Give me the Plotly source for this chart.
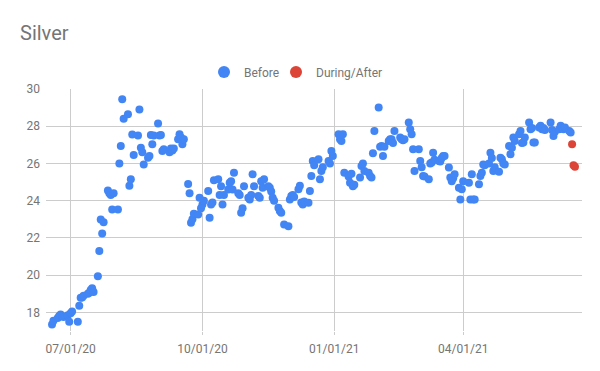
import plotly.graph_objects as go

# ---- data ----
before_dates = [
    "2020-06-18","2020-06-19","2020-06-22","2020-06-23","2020-06-24","2020-06-25","2020-06-26","2020-06-29","2020-06-30",
    "2020-07-01","2020-07-02","2020-07-06","2020-07-07","2020-07-08","2020-07-09","2020-07-10","2020-07-13","2020-07-14",
    "2020-07-15","2020-07-16","2020-07-17","2020-07-20","2020-07-21","2020-07-22","2020-07-23","2020-07-24","2020-07-27",
    "2020-07-28","2020-07-29","2020-07-30","2020-07-31",
    "2020-08-03","2020-08-04","2020-08-05","2020-08-06","2020-08-07","2020-08-10","2020-08-11","2020-08-12","2020-08-13",
    "2020-08-14","2020-08-17","2020-08-18","2020-08-19","2020-08-20","2020-08-21","2020-08-24","2020-08-25","2020-08-26",
    "2020-08-27","2020-08-28","2020-08-31",
    "2020-09-01","2020-09-02","2020-09-03","2020-09-04","2020-09-08","2020-09-09","2020-09-10","2020-09-11","2020-09-14",
    "2020-09-15","2020-09-16","2020-09-17","2020-09-18","2020-09-21","2020-09-22","2020-09-23","2020-09-24","2020-09-25",
    "2020-09-28","2020-09-29","2020-09-30",
    "2020-10-01","2020-10-02","2020-10-05","2020-10-06","2020-10-07","2020-10-08","2020-10-09","2020-10-12","2020-10-13",
    "2020-10-14","2020-10-15","2020-10-16","2020-10-19","2020-10-20","2020-10-21","2020-10-22","2020-10-23","2020-10-26",
    "2020-10-27","2020-10-28","2020-10-29","2020-10-30",
    "2020-11-02","2020-11-03","2020-11-04","2020-11-05","2020-11-06","2020-11-09","2020-11-10","2020-11-11","2020-11-12",
    "2020-11-13","2020-11-16","2020-11-17","2020-11-18","2020-11-19","2020-11-20","2020-11-23","2020-11-24","2020-11-25",
    "2020-11-27","2020-11-30",
    "2020-12-01","2020-12-02","2020-12-03","2020-12-04","2020-12-07","2020-12-08","2020-12-09","2020-12-10","2020-12-11",
    "2020-12-14","2020-12-15","2020-12-16","2020-12-17","2020-12-18","2020-12-21","2020-12-22","2020-12-23","2020-12-24",
    "2020-12-28","2020-12-29","2020-12-30","2020-12-31",
    "2021-01-04","2021-01-05","2021-01-06","2021-01-07","2021-01-08","2021-01-11","2021-01-12","2021-01-13","2021-01-14",
    "2021-01-15","2021-01-19","2021-01-20","2021-01-21","2021-01-22","2021-01-25","2021-01-26","2021-01-27","2021-01-28",
    "2021-01-29",
    "2021-02-01","2021-02-02","2021-02-03","2021-02-04","2021-02-05","2021-02-08","2021-02-09","2021-02-10","2021-02-11",
    "2021-02-12","2021-02-16","2021-02-17","2021-02-18","2021-02-19","2021-02-22","2021-02-23","2021-02-24","2021-02-25",
    "2021-02-26",
    "2021-03-01","2021-03-02","2021-03-03","2021-03-04","2021-03-05","2021-03-08","2021-03-09","2021-03-10","2021-03-11",
    "2021-03-12","2021-03-15","2021-03-16","2021-03-17","2021-03-18","2021-03-19","2021-03-22","2021-03-23","2021-03-24",
    "2021-03-25","2021-03-26","2021-03-29","2021-03-30","2021-03-31",
    "2021-04-01","2021-04-05","2021-04-06","2021-04-07","2021-04-08","2021-04-09","2021-04-12","2021-04-13","2021-04-14",
    "2021-04-15","2021-04-16","2021-04-19","2021-04-20","2021-04-21","2021-04-22","2021-04-23","2021-04-26","2021-04-27",
    "2021-04-28","2021-04-29","2021-04-30",
    "2021-05-03","2021-05-04","2021-05-05","2021-05-06","2021-05-07","2021-05-10","2021-05-11","2021-05-12","2021-05-13",
    "2021-05-14","2021-05-17","2021-05-18","2021-05-19","2021-05-20","2021-05-21","2021-05-24","2021-05-25","2021-05-26",
    "2021-05-27","2021-05-28",
    "2021-06-01","2021-06-02","2021-06-03","2021-06-04","2021-06-07","2021-06-08","2021-06-09","2021-06-10","2021-06-11",
    "2021-06-14","2021-06-15",
]
before_values = [
    17.35,17.55,17.70,17.80,17.88,17.80,17.75,17.85,17.50,
    17.95,18.05,17.50,18.35,18.78,18.80,18.90,19.00,19.05,
    19.20,19.30,19.10,19.94,21.30,22.99,22.24,22.84,24.55,
    24.40,24.30,23.53,24.40,
    23.53,26.00,26.94,29.45,28.40,28.65,24.80,25.15,27.55,
    26.45,27.50,28.90,26.85,26.60,25.95,26.31,26.40,27.53,
    27.03,27.50,28.15,
    27.50,27.53,26.67,26.76,26.60,26.80,26.70,26.80,27.30,
    27.57,27.40,27.03,27.30,24.90,24.40,22.81,23.00,23.30,
    23.26,24.16,23.60,
    23.80,24.00,24.52,23.08,23.80,23.90,25.10,25.15,24.30,
    24.78,23.80,24.30,24.60,24.97,25.05,24.60,25.50,24.40,
    24.30,23.35,23.60,24.78,
    24.16,24.07,24.30,25.42,24.78,24.25,24.16,25.05,24.70,
    25.15,24.78,24.70,24.50,24.16,24.00,23.62,23.44,23.35,
    22.72,22.63,
    24.07,24.25,24.30,24.20,24.61,24.80,23.90,23.80,23.95,
    23.89,24.52,25.32,26.13,25.90,26.22,25.15,25.60,25.80,
    26.13,26.00,26.67,26.40,
    27.57,27.30,27.21,27.57,25.50,25.30,24.97,25.45,24.78,
    24.85,25.24,25.86,26.00,25.60,25.50,25.32,25.24,26.55,
    27.75,
    29.00,26.90,26.94,26.40,26.90,27.21,27.30,27.30,27.10,
    27.75,27.39,27.30,27.25,27.30,28.20,27.84,27.57,26.76,
    25.60,
    26.76,26.13,25.80,25.32,25.30,25.15,26.00,26.05,26.58,
    26.20,26.13,26.10,26.30,26.40,26.40,25.78,25.24,25.05,
    25.20,25.42,24.70,24.07,24.61,
    25.05,24.97,24.07,25.42,24.07,24.07,24.88,25.32,25.50,
    25.95,25.90,26.00,26.58,26.30,25.60,25.80,25.56,26.31,
    26.22,26.00,25.95,
    26.94,26.50,26.85,27.39,27.21,27.57,27.75,27.10,27.12,
    27.40,28.20,27.84,27.90,27.12,27.12,27.93,28.02,27.84,
    27.90,27.80,
    28.20,27.80,27.48,27.70,27.84,28.02,27.90,27.84,27.93,
    27.75,27.66,
]
after_dates = ["2021-06-16", "2021-06-17", "2021-06-18"]
after_values = [27.03, 25.90, 25.83]

series_names = ["Before", "During/After"]
x_tick_dates = ["2020-07-01", "2020-10-01", "2021-01-01", "2021-04-01"]
x_tick_labels = ["07/01/20", "10/01/20", "01/01/21", "04/01/21"]
y_ticks = [18, 20, 22, 24, 26, 28, 30]

BLUE = "#4285F4"
RED = "#DB4437"
GRAY = "#757575"
GRID = "#cccccc"
FONT = "Roboto, Arial, sans-serif"

fig = go.Figure()
fig.add_trace(go.Scatter(x=before_dates, y=before_values, mode="markers", name=series_names[0],
                         marker=dict(color=BLUE, size=8, line=dict(width=0)), legend="legend"))
fig.add_trace(go.Scatter(x=after_dates, y=after_values, mode="markers", name=series_names[1],
                         marker=dict(color=RED, size=8, line=dict(width=0)), legend="legend2"))

legend_common = dict(orientation="h", xref="container", xanchor="left",
                     y=1 - 72/371, yref="container", yanchor="middle",
                     font=dict(family=FONT, size=12, color=GRAY),
                     itemwidth=30, itemsizing="constant", bgcolor="rgba(0,0,0,0)")

fig.update_layout(
    width=600, height=371,
    margin=dict(l=46, r=18, t=89, b=40, autoexpand=False),
    paper_bgcolor="white", plot_bgcolor="white",
    font=dict(family=FONT, size=12, color=GRAY),
    title=dict(text="Silver", x=20/600, xref="container", xanchor="left",
               y=1 - 33/371, yref="container", yanchor="middle",
               font=dict(family=FONT, size=20, color=GRAY)),
    legend=dict(x=204/600, **legend_common),
    legend2=dict(x=276/600, **legend_common),
    showlegend=True,
)
fig.update_xaxes(
    type="date",
    range=["2020-06-13 19:00", "2021-06-22 22:00"],
    tickvals=x_tick_dates, ticktext=x_tick_labels,
    showgrid=True, gridcolor=GRID, gridwidth=1,
    ticks="outside", ticklen=3, tickcolor=GRID,
    showline=False, zeroline=False, ticklabelstandoff=4,
    tickfont=dict(family=FONT, size=12, color=GRAY),
)
fig.update_yaxes(
    range=[17.0, 30.0],
    tickvals=y_ticks, ticktext=[str(v) for v in y_ticks],
    showgrid=True, gridcolor=GRID, gridwidth=1,
    showline=False, zeroline=False, ticks="", ticklabelstandoff=5,
    tickfont=dict(family=FONT, size=12, color=GRAY),
)

fig.write_html("out.html", config={"displayModeBar": False},
               post_script="document.body.style.margin='0px';")
